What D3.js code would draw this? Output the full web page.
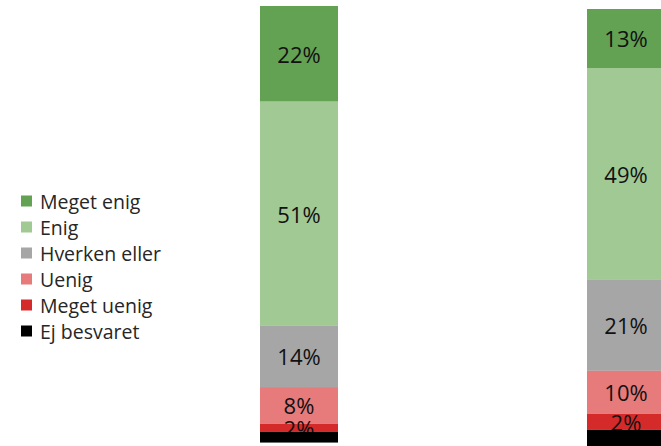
<!DOCTYPE html>
<html>
<head>
<meta charset="utf-8">
<script src="https://cdn.jsdelivr.net/npm/d3@7"></script>
<style>
  html, body { margin: 0; padding: 0; background: #fff; overflow: hidden; }
  svg { display: block; }
</style>
</head>
<body>
<svg id="chart" width="661" height="446"></svg>
<script>
// ---- data ----
const categories = ["Meget enig", "Enig", "Hverken eller", "Uenig", "Meget uenig", "Ej besvaret"];
const colors = ["#63a153", "#a1c994", "#a6a6a6", "#e77b7b", "#d52a2a", "#000000"];
const groups = ["A", "B"];
const valuesA = [21.9, 51.3, 14.0, 8.4, 1.8, 2.5];
const valuesB = [13.5, 48.5, 20.8, 9.8, 3.7, 3.7];
const labelsA = ["22%", "51%", "14%", "8%", "2%", ""];
const labelsB = ["13%", "49%", "21%", "10%", "2%", ""];

const seriesValues = [valuesA, valuesB];
const seriesLabels = [labelsA, labelsB];

const svg = d3.select("#chart");
const font = "'Open Sans', 'Noto Sans', sans-serif";

// x positions of bars
const x = d3.scaleOrdinal().domain(groups).range([260, 587]);
const barW = 78;
const panelTop = [6, 9];
const panelBottom = [443, 446];

groups.forEach((g, gi) => {
  const vals = seriesValues[gi];
  const labs = seriesLabels[gi];
  const y = d3.scaleLinear().domain([0, 100]).range([panelBottom[gi], panelTop[gi]]);
  let cum = 100;
  const segs = vals.map((v, i) => {
    const top = cum;
    cum -= v;
    return { i, v, y0: cum, y1: top, label: labs[i] };
  });
  const gEl = svg.append("g");
  segs.forEach(s => {
    gEl.append("rect")
      .attr("x", x(g))
      .attr("y", y(s.y1))
      .attr("width", barW)
      .attr("height", y(s.y0) - y(s.y1))
      .attr("fill", colors[s.i]);
    if (s.label) {
      gEl.append("text")
        .attr("x", x(g) + barW / 2)
        .attr("y", (y(s.y0) + y(s.y1)) / 2)
        .attr("text-anchor", "middle")
        .attr("dominant-baseline", "central")
        .attr("font-family", font)
        .attr("font-size", 22)
        .attr("fill", "#111")
        .text(s.label);
    }
  });
});

// legend
const legendY = d3.scalePoint().domain(categories).range([201, 331]);
const leg = svg.append("g");
categories.forEach((c, i) => {
  leg.append("rect")
    .attr("x", 21)
    .attr("y", legendY(c) - 5.5)
    .attr("width", 11)
    .attr("height", 11)
    .attr("fill", colors[i]);
  leg.append("text")
    .attr("x", 40)
    .attr("y", legendY(c))
    .attr("dominant-baseline", "central")
    .attr("font-family", font)
    .attr("font-size", 19.5)
    .attr("fill", "#262626")
    .text(c);
});
</script>
</body>
</html>
